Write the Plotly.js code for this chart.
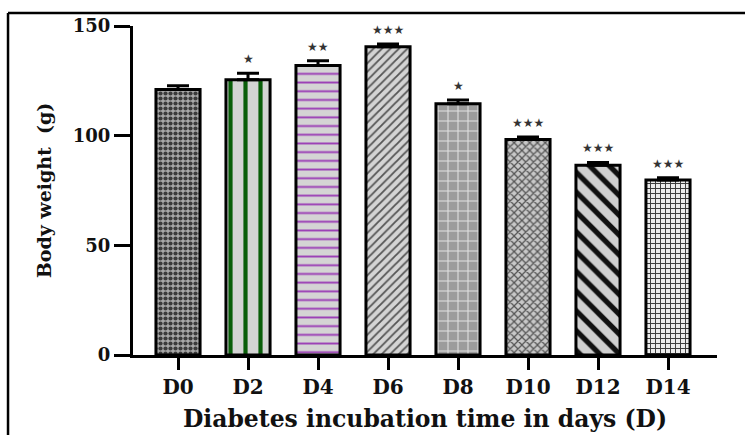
<!DOCTYPE html>
<html><head><meta charset="utf-8">
<script src="https://cdn.plot.ly/plotly-3.0.1.min.js"></script>
<style>html,body{margin:0;padding:0;background:#fff}#c{width:745px;height:435px}</style>
</head><body><div id="c"></div>
<script>
const days = ["D0","D2","D4","D6","D8","D10","D12","D14"];
const weight = [121, 125.5, 132, 140.5, 114.5, 98.2, 86.5, 79.8];
const sem = [1.8, 3, 2.2, 1.3, 1.8, 1.2, 1.3, 1.0];
const signif = ["", "*", "**", "***", "*", "***", "***", "***"];

const patShape = [".", "|", "-", "/", "+", "x", "\\", "+"];
const patFg = ["#3a3a3a", "#0a5e0a", "#9a3db5", "#555555", "#e2e2e2", "#555555", "#111111", "#3a3a3a"];
const patBg = ["#a8a8a8", "#d4d4d4", "#d4d4d4", "#d4d4d4", "#9c9c9c", "#c8c8c8", "#d0d0d0", "#ececec"];
const patSize = [5, 15, 8.7, 6, 10, 5.5, 14, 5];
const patSolid = [0.55, 0.28, 0.22, 0.3, 0.2, 0.4, 0.38, 0.35];

const serif = "DejaVu Serif";
const traces = days.map((d, i) => ({
  type: "bar", x: [d], y: [weight[i]], width: 0.63,
  marker: {
    color: patBg[i],
    line: {color: "#000", width: 3},
    pattern: {shape: patShape[i], fgcolor: patFg[i], size: patSize[i], solidity: patSolid[i], fillmode: "overlay", fgopacity: 1}
  },
  error_y: {type: "data", symmetric: false, array: [sem[i]], arrayminus: [0], color: "#000", thickness: 3, width: 11},
  hoverinfo: "none"
}));

const annotations = days.map((d, i) => ({
  x: d, y: weight[i] + sem[i], xref: "x", yref: "y",
  text: signif[i].replace(/\*/g, "★"), showarrow: false,
  yanchor: "bottom", yshift: 5,
  font: {family: "DejaVu Sans", size: 12, color: "#333"}
})).filter(a => a.text);

const layout = {
  width: 745, height: 435,
  margin: {l: 133, r: 28, t: 26, b: 80},
  paper_bgcolor: "#fff", plot_bgcolor: "#fff",
  showlegend: false, barmode: "overlay",
  xaxis: {
    range: [-0.643, 7.7], showline: true, linecolor: "#000", linewidth: 3,
    ticks: "outside", ticklen: 12, tickwidth: 3, tickcolor: "#000",
    showgrid: false, zeroline: false,
    tickfont: {family: serif, size: 20, color: "#111", weight: "bold"},
    title: {text: "<b>Diabetes incubation time in days (D)</b>", standoff: 13, font: {family: serif, size: 23.5, color: "#111"}}
  },
  yaxis: {
    range: [0, 150], tickvals: [0, 50, 100, 150], showline: true, linecolor: "#000", linewidth: 3,
    ticks: "outside", ticklen: 16, tickwidth: 3, tickcolor: "#000",
    showgrid: false, zeroline: false,
    tickfont: {family: serif, size: 18, color: "#111", weight: "bold"},
    title: {text: "<b>Body weight  (g)</b>", standoff: 17, font: {family: serif, size: 19, color: "#111"}}
  },
  annotations: annotations,
  shapes: [
    {type: "line", xref: "paper", yref: "paper", x0: -0.214, x1: -0.214, y0: -0.26, y1: 1.0395, line: {color: "#000", width: 2.5}},
    {type: "line", xref: "paper", yref: "paper", x0: -0.214, x1: 1.06, y0: 1.0395, y1: 1.0395, line: {color: "#000", width: 2.5}}
  ]
};
Plotly.newPlot("c", traces, layout, {displayModeBar: false, staticPlot: true});
</script>
</body></html>
